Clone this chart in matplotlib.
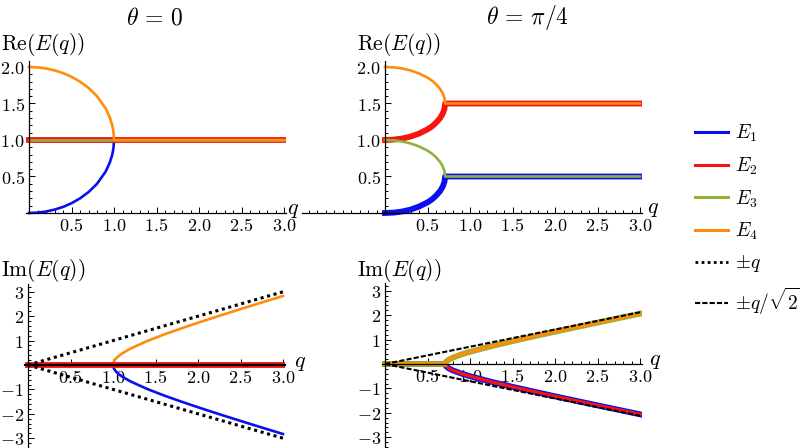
import numpy as np
import matplotlib
matplotlib.use('Agg')
import matplotlib.pyplot as plt
from matplotlib.ticker import MultipleLocator
from matplotlib.lines import Line2D

plt.rcParams['mathtext.fontset'] = 'cm'
plt.rcParams['font.family'] = 'serif'

W, H = 800, 448

# theta = 0, real parts (E1 lower branch, E4 upper branch, E2=E3 flat at 1)
q_re0 = [0, 0.1, 0.2, 0.3, 0.4, 0.5, 0.6, 0.7, 0.8, 0.9, 0.95, 0.98, 0.995, 1.0, 3.0]
re0_E4 = [2.0, 1.995, 1.98, 1.954, 1.917, 1.866, 1.8, 1.714, 1.6, 1.436, 1.312, 1.199, 1.1, 1.0, 1.0]
re0_E1 = [0.0, 0.005, 0.02, 0.046, 0.083, 0.134, 0.2, 0.286, 0.4, 0.564, 0.688, 0.801, 0.9, 1.0, 1.0]
q_flat = [0, 3.0]
re0_E2 = [1.0, 1.0]
re0_E3 = [1.0, 1.0]

# theta = 0, imaginary parts
q_im0 = [0, 1.0, 1.005, 1.02, 1.05, 1.1, 1.2, 1.4, 1.6, 1.8, 2.0, 2.25, 2.5, 2.75, 3.0]
im0_E4 = [0, 0, 0.1, 0.201, 0.32, 0.458, 0.663, 0.98, 1.249, 1.497, 1.732, 2.016, 2.291, 2.562, 2.828]
im0_E1 = [0, 0, -0.1, -0.201, -0.32, -0.458, -0.663, -0.98, -1.249, -1.497, -1.732, -2.016, -2.291, -2.562, -2.828]
im0_E2 = [0.0, 0.0]
im0_E3 = [0.0, 0.0]
ref_q = [0.0, 3.0]
ref_plus_q = [0.0, 3.0]
ref_minus_q = [0.0, -3.0]

# theta = pi/4, real parts
q_re1 = [0, 0.1, 0.2, 0.3, 0.4, 0.5, 0.55, 0.6, 0.65, 0.68, 0.70, 0.7071, 3.0]
re1_E4 = [2.0, 1.995, 1.98, 1.953, 1.912, 1.854, 1.816, 1.764, 1.697, 1.637, 1.571, 1.5, 1.5]
re1_E2 = [1.0, 1.005, 1.02, 1.047, 1.088, 1.146, 1.184, 1.236, 1.303, 1.363, 1.429, 1.5, 1.5]
re1_E3 = [1.0, 0.995, 0.98, 0.953, 0.912, 0.854, 0.816, 0.764, 0.697, 0.637, 0.571, 0.5, 0.5]
re1_E1 = [0.0, 0.005, 0.02, 0.047, 0.088, 0.146, 0.184, 0.236, 0.303, 0.363, 0.429, 0.5, 0.5]

# theta = pi/4, imaginary parts (E3,E4 positive; E1,E2 negative)
q_im1 = [0, 0.7071, 0.71, 0.72, 0.75, 0.8, 0.9, 1.0, 1.25, 1.5, 1.75, 2.0, 2.5, 3.0]
im1_up = [0, 0, 0.045, 0.096, 0.177, 0.265, 0.394, 0.5, 0.729, 0.935, 1.132, 1.323, 1.696, 2.062]
im1_down = [-v for v in im1_up]
ref_plus_qs2 = [0.0, 2.121]
ref_minus_qs2 = [0.0, -2.121]

x_ticks = [0.5, 1.0, 1.5, 2.0, 2.5, 3.0]
x_tick_labels = ['0.5', '1.0', '1.5', '2.0', '2.5', '3.0']
re_ticks = [0.5, 1.0, 1.5, 2.0]
re_tick_labels = ['0.5', '1.0', '1.5', '2.0']
im_ticks = [-3, -2, -1, 1, 2, 3]
im_tick_labels = ['-3', '-2', '-1', '1', '2', '3']

legend_labels = [r'$E_1$', r'$E_2$', r'$E_3$', r'$E_4$', r'$\pm q$', r'$\pm q/\sqrt{2}$']

BLUE = '#0a0ff0'
RED = '#f5140f'
GREEN = '#8db43a'
ORANGE = '#ff8c0a'
THIN = 1.9
THICK = 4.2


def pixelAxes(fig, origin, scale, xlim, ylim):
    ox, oy = origin
    sx, sy = scale
    left = (ox + sx * xlim[0]) / W
    right = (ox + sx * xlim[1]) / W
    top = 1 - (oy - sy * ylim[1]) / H
    bottom = 1 - (oy - sy * ylim[0]) / H
    ax = fig.add_axes([left, bottom, right - left, top - bottom])
    ax.set_xlim(xlim)
    ax.set_ylim(ylim)
    ax.patch.set_visible(False)
    for s in ['top', 'right']:
        ax.spines[s].set_visible(False)
    ax.spines['left'].set_position(('data', 0))
    ax.spines['bottom'].set_position(('data', 0))
    for s in ['left', 'bottom']:
        ax.spines[s].set_linewidth(0.9)
    ax.tick_params(which='both', direction='in', width=0.7, pad=3)
    ax.tick_params(which='major', length=4)
    ax.tick_params(which='minor', length=2)
    ax.set_xticks(x_ticks)
    ax.set_xticklabels(['$' + t + '$' for t in x_tick_labels], fontsize=13)
    ax.xaxis.set_minor_locator(MultipleLocator(0.1))
    return ax


def label(fig, x, y, s, size, ha='left'):
    fig.text(x / W, 1 - y / H, s, fontsize=size, ha=ha, va='center')


fig = plt.figure(figsize=(W / 100, H / 100), dpi=100)

# top-left: Re, theta = 0
ax1 = pixelAxes(fig, (29, 213), (85, 73), (-0.03, 3.02), (-0.06, 2.08))
ax1.spines['left'].set_bounds(0, 2.08)
ax1.plot(q_re0, re0_E1, color=BLUE, lw=THIN)
ax1.plot(q_flat, re0_E2, color=RED, lw=THICK)
ax1.plot(q_flat, re0_E3, color=GREEN, lw=THIN)
ax1.plot(q_re0, re0_E4, color=ORANGE, lw=THIN)

# top-right: Re, theta = pi/4
ax2 = pixelAxes(fig, (385, 213), (85, 73), (-0.98, 3.02), (-0.06, 2.08))
ax2.spines['left'].set_bounds(0, 2.08)
ax2.plot(q_re1, re1_E1, color=BLUE, lw=THICK)
ax2.plot(q_re1, re1_E2, color=RED, lw=THICK)
ax2.plot(q_re1, re1_E3, color=GREEN, lw=THIN)
ax2.plot(q_re1, re1_E4, color=ORANGE, lw=THIN)

for ax in (ax1, ax2):
    ax.set_yticks(re_ticks)
    ax.set_yticklabels(['$' + t + '$' for t in re_tick_labels], fontsize=13)
    ax.yaxis.set_minor_locator(MultipleLocator(0.1))

# bottom-left: Im, theta = 0 (red band drawn last over the zero line)
ax3 = pixelAxes(fig, (28, 365), (85, 24.4), (-0.03, 3.02), (-3.45, 3.3))
ax3.plot(q_flat, im0_E3, color=GREEN, lw=THIN)
ax3.plot(q_im0, im0_E4, color=ORANGE, lw=THIN)
ax3.plot(q_im0, im0_E1, color=BLUE, lw=THIN)
ax3.plot(q_flat, im0_E2, color=RED, lw=THICK)
ax3.plot(ref_q, ref_plus_q, color='black', lw=2.2, ls=(0, (1, 1.2)))
ax3.plot(ref_q, ref_minus_q, color='black', lw=2.2, ls=(0, (1, 1.2)))
ax3.spines['bottom'].set_linewidth(1.6)

# bottom-right: Im, theta = pi/4
ax4 = pixelAxes(fig, (385, 364), (85, 24.4), (-0.03, 3.02), (-3.45, 3.3))
ax4.plot(q_im1, im1_down, color=BLUE, lw=THICK)
ax4.plot(q_im1, im1_down, color=RED, lw=2.4)
ax4.plot(q_im1, im1_up, color=GREEN, lw=THICK)
ax4.plot(q_im1, im1_up, color=ORANGE, lw=2.4)
ax4.plot(ref_q, ref_plus_qs2, color='black', lw=1.5, ls=(0, (2.5, 1)))
ax4.plot(ref_q, ref_minus_qs2, color='black', lw=1.5, ls=(0, (2.5, 1)))

for ax in (ax3, ax4):
    ax.set_yticks(im_ticks)
    ax.set_yticklabels(['$' + t + '$' for t in im_tick_labels], fontsize=13)
    ax.yaxis.set_minor_locator(MultipleLocator(0.2))

# titles and axis labels
label(fig, 155, 18, r'$\theta\,=\,0$', 17, ha='center')
label(fig, 527, 18, r'$\theta\,=\,\pi/4$', 17, ha='center')
label(fig, 1, 44, r'$\mathrm{Re}(E(q))$', 15.5)
label(fig, 357, 44, r'$\mathrm{Re}(E(q))$', 15.5)
label(fig, 1, 271, r'$\mathrm{Im}(E(q))$', 15.5)
label(fig, 357, 271, r'$\mathrm{Im}(E(q))$', 15.5)
label(fig, 287, 209, r'$q$', 16)
label(fig, 647, 208, r'$q$', 16)
label(fig, 294, 362, r'$q$', 16)
label(fig, 649, 360, r'$q$', 16)

handles = [Line2D([], [], color=BLUE, lw=2.2),
           Line2D([], [], color=RED, lw=2.2),
           Line2D([], [], color=GREEN, lw=2.2),
           Line2D([], [], color=ORANGE, lw=2.2),
           Line2D([], [], color='black', lw=2.0, ls=(0, (1, 1.2))),
           Line2D([], [], color='black', lw=1.5, ls=(0, (2.5, 1)))]
fig.legend(handles, legend_labels, loc='center left', bbox_to_anchor=(695 / W, 1 - 220 / H),
           frameon=False, fontsize=14, handlelength=1.7, handletextpad=0.35, labelspacing=0.58,
           borderaxespad=0, borderpad=0)

fig.savefig('out.png', dpi=100)
